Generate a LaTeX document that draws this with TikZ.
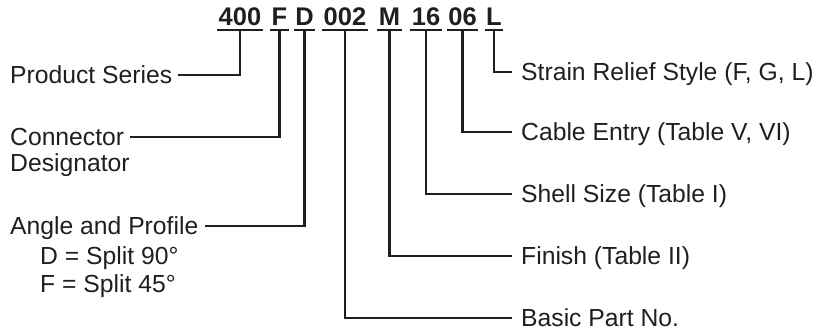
\documentclass[tikz,border=0pt]{standalone}
\usepackage{fontspec}
\setmainfont{Liberation Sans}
\usetikzlibrary{positioning}
\colorlet{inkcol}{black!88}
\tikzset{
    code/.style={font=\fontsize{25.5}{30}\selectfont\bfseries, text=inkcol, anchor=base, inner xsep=1.5pt, inner ysep=5pt, text depth=0pt},
    lbl/.style={font=\fontsize{24.7}{29}\selectfont, text=inkcol, inner xsep=6pt, inner ysep=0pt, text height=17.5pt, text depth=0pt},
    lead/.style={draw=inkcol, line width=2.1pt},
}

\begin{document}
\begin{tikzpicture}[x=1pt, y=-1pt]
    \useasboundingbox (0,0) rectangle (822,333);

    % part number
    \node[code] (n400) at (240, 25) {400};
    \node[code] (nF) at (279.5, 25) {F};
    \node[code] (nD) at (304.5, 25) {D};
    \node[code] (n002) at (345, 25) {002};
    \node[code] (nM) at (389.5, 25) {M};
    \node[code] (n16) at (426, 25) {16};
    \node[code] (n06) at (462.5, 25) {06};
    \node[code] (nL) at (494, 25) {L};

    \foreach \n in {n400, nF, nD, n002, nM, n16, n06, nL}
    {
        \draw[lead] (\n.south west) -- (\n.south east);
    }

    % left labels
    \node[lbl, anchor=west] (series) at (4, 75) {Product Series};
    \node[lbl, anchor=west] (conn) at (4, 137) {Connector};
    \node[lbl, anchor=west] (desig) at (4, 163) {Designator};
    \node[lbl, anchor=west] (angle) at (4, 226) {Angle and Profile};
    \node[lbl, anchor=west] (optD) at (34, 256) {D = Split 90°};
    \node[lbl, anchor=west] (optF) at (34, 284) {F = Split 45°};

    % right labels
    \node[lbl, anchor=west, inner xsep=9pt] (strain) at (512, 72) {Strain Relief Style (F, G, L)};
    \node[lbl, anchor=west, inner xsep=9pt] (cable) at (512, 132) {Cable Entry (Table V, VI)};
    \node[lbl, anchor=west, inner xsep=9pt] (shell) at (512, 194) {Shell Size (Table I)};
    \node[lbl, anchor=west, inner xsep=9pt] (finish) at (512, 256) {Finish (Table II)};
    \node[lbl, anchor=west, inner xsep=9pt] (basic) at (512, 318) {Basic Part No.};

    % leaders
    \draw[lead] (n400.south) |- (series.east);
    \draw[lead] (nF.south) |- (conn.east);
    \draw[lead] (nD.south) |- (angle.east);
    \draw[lead] (n002.south) |- (basic.west);
    \draw[lead] (nM.south) |- (finish.west);
    \draw[lead] (n16.south) |- (shell.west);
    \draw[lead] (n06.south) |- (cable.west);
    \draw[lead] (nL.south) |- (strain.west);
\end{tikzpicture}
\end{document}
